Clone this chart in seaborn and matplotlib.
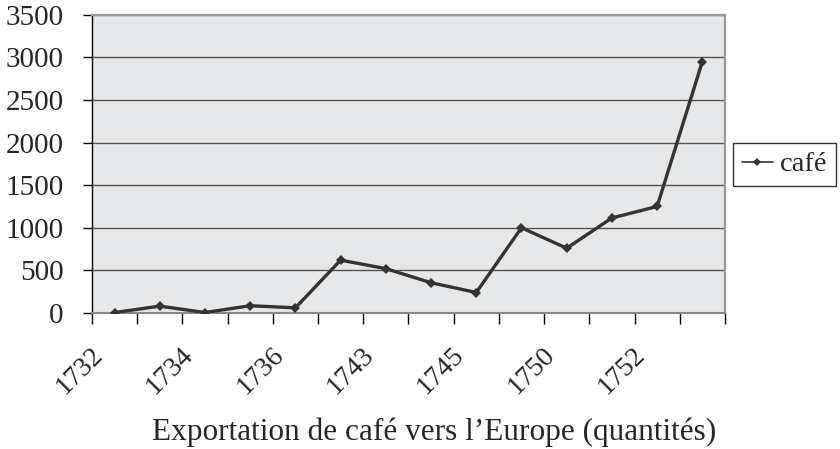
import numpy as np
import pandas as pd
import matplotlib
matplotlib.use('Agg')
import matplotlib.pyplot as plt
import matplotlib.transforms as mtransforms
import seaborn as sns

# ── Données ─────────────────────────────────────────────────────────
annees = ["1732", "", "1734", "", "1736", "", "1743", "", "1745", "", "1750", "", "1752", ""]
quantites = [5, 80, 5, 85, 60, 620, 520, 355, 240, 1000, 760, 1115, 1250, 2950]
y_ticks = [0, 500, 1000, 1500, 2000, 2500, 3000, 3500]
serie = "café"
titre_x = "Exportation de café vers l’Europe (quantités)"

df = pd.DataFrame({"pos": np.arange(len(quantites)), "val": quantites, "serie": serie})

sns.set_style("white")
plt.rcParams['font.family'] = ['Liberation Serif', 'DejaVu Serif']

fig = plt.figure(figsize=(8.4, 4.49), dpi=100)
ax = fig.add_axes([0.1095, 0.303, 0.7535, 0.664])
ax.set_facecolor('#e6e7e9')

sns.lineplot(data=df, x="pos", y="val", hue="serie", palette=['#333333'],
             marker='D', markersize=5.5, markeredgewidth=0, linewidth=2.4,
             ax=ax, legend=True, zorder=3)

# Axes
ax.set_ylim(0, 3500)
ax.set_xlim(-0.5, len(quantites) - 0.5)
ax.set_yticks(y_ticks)
ax.set_yticklabels([str(v) for v in y_ticks], fontsize=21)
ax.yaxis.grid(True, color='#555555', linewidth=1.0)
ax.set_axisbelow(True)

# graduations aux frontières des catégories, étiquettes au centre
ax.set_xticks(np.arange(-0.5, len(quantites), 1.0))
ax.set_xticklabels([])
ax.set_xticks(np.arange(len(quantites)), minor=True)
ax.set_xticklabels(annees, minor=True, fontsize=20, rotation=45,
                   ha='right', va='baseline', rotation_mode='anchor')
ax.tick_params(axis='x', which='major', direction='out', length=8, width=1, color='black', bottom=True)
ax.tick_params(axis='x', which='minor', length=0, pad=31)
ax.tick_params(axis='y', direction='out', length=6.5, width=1, color='black', left=True, pad=14)

decalage = mtransforms.ScaledTranslation(-0.11, 0, fig.dpi_scale_trans)
for lab in ax.get_xticklabels(minor=True):
    lab.set_transform(lab.get_transform() + decalage)

ax.set_xlabel("")
ax.set_ylabel("")
fig.text(434 / 840, 9 / 449, titre_x, fontsize=22.5, ha='center', va='baseline')

for s in ['top', 'right']:
    ax.spines[s].set_color('#9a9a9a')
    ax.spines[s].set_linewidth(1.6)
ax.spines['bottom'].set_color('#888888')
ax.spines['bottom'].set_linewidth(1.5)
ax.spines['left'].set_color('black')
ax.spines['left'].set_linewidth(1.0)

# Légende
h, l = ax.get_legend_handles_labels()
ax.get_legend().remove()
leg = fig.legend(h, l, loc='upper left', bbox_to_anchor=(733 / 840, 1 - 143 / 449),
                 fontsize=20.5, frameon=True, fancybox=False, handlelength=1.1,
                 handletextpad=0.25, borderpad=0.3, borderaxespad=0)
leg.get_frame().set_edgecolor('black')
leg.get_frame().set_linewidth(1.0)
for ln in leg.get_lines():
    ln.set_linewidth(1.2)
    ln.set_markersize(4.5)

plt.savefig('out.png', dpi=100)
